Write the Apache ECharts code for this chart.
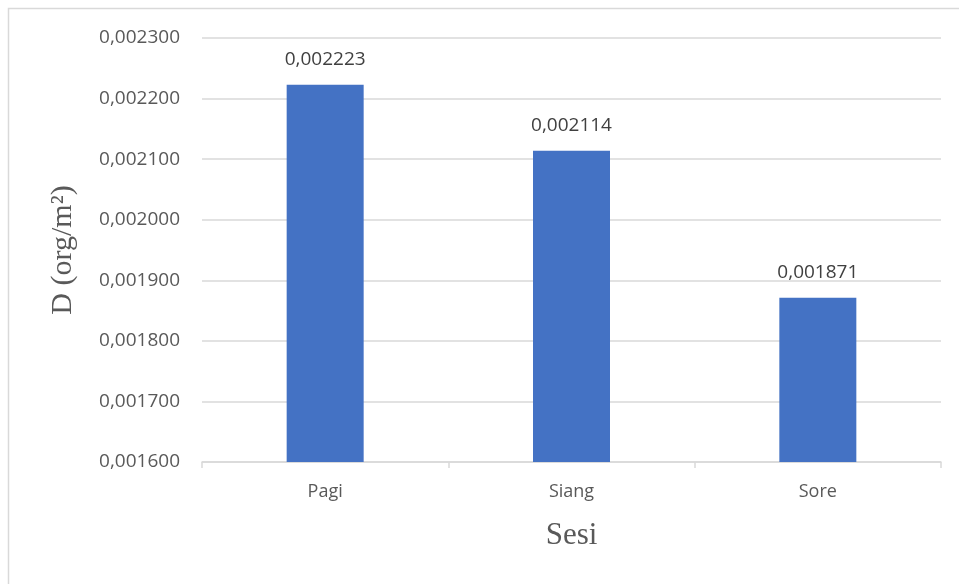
<!DOCTYPE html>
<html><head><meta charset="utf-8">
<script src="https://cdn.jsdelivr.net/npm/echarts@6/dist/echarts.min.js"></script>
<style>html,body{margin:0;padding:0;background:#fff}#c{width:959px;height:584px}</style>
</head><body><div id="c"></div>
<script>
var categories = ['Pagi', 'Siang', 'Sore'];
var values = [0.002223, 0.002114, 0.001871];
var yMin = 0.0016, yMax = 0.0023, yStep = 0.0001;
var xTitle = 'Sesi';
var yTitle = 'D (org/m²)';
function fmt(v){ return Number(v).toFixed(6).replace('.', ','); }
var chart = echarts.init(document.getElementById('c'));
chart.setOption({
  animation: false,
  backgroundColor: '#fff',
  graphic: [{type:'rect', shape:{x:8.5,y:8.5,width:1200,height:1200}, style:{fill:'none', stroke:'#d9d9d9', lineWidth:1.5}, silent:true}],
  grid: {left: 202, right: 18, top: 38, bottom: 122, containLabel: false},
  xAxis: {
    type: 'category', data: categories,
    axisLine: {lineStyle: {color: '#d9d9d9', width: 1.5}},
    axisTick: {show: true, length: 6, lineStyle: {color: '#d9d9d9', width: 1.5}},
    axisLabel: {color: '#595959', fontFamily: 'Open Sans', fontSize: 18, margin: 21},
    name: xTitle, nameLocation: 'middle', nameGap: 58,
    nameTextStyle: {fontFamily: 'Liberation Serif', fontSize: 31, color: '#595959'}
  },
  yAxis: {
    type: 'value', min: yMin, max: yMax, interval: yStep,
    axisLine: {show: false}, axisTick: {show: false},
    splitLine: {lineStyle: {color: '#d9d9d9', width: 1.5}},
    axisLabel: {color: '#595959', fontFamily: 'Open Sans', fontSize: 19, margin: 22, formatter: fmt},
    name: yTitle, nameLocation: 'middle', nameGap: 124,
    nameTextStyle: {fontFamily: 'Liberation Serif', fontSize: 30, color: '#595959'}
  },
  series: [{
    type: 'bar', data: values, barWidth: 77,
    itemStyle: {color: '#4472C4'},
    label: {show: true, position: 'top', distance: 16, color: '#404040', fontFamily: 'Open Sans', fontSize: 19, formatter: function(p){return fmt(p.value);}}
  }]
});
</script></body></html>
